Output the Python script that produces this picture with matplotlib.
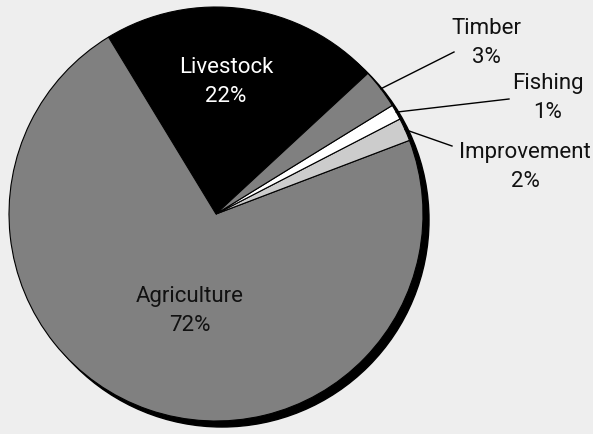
import matplotlib
matplotlib.use('Agg')
import numpy as np
import matplotlib.pyplot as plt
from matplotlib.patches import Circle

plt.rcParams['font.family'] = ['Roboto', 'DejaVu Sans']

# данные
labels = ['Livestock', 'Agriculture', 'Improvement', 'Fishing', 'Timber']
values = [21.8, 72.1, 1.8, 1.2, 3.1]
colors = ['#000000', '#808080', '#cccccc', '#ffffff', '#808080']

W, H = 593, 434
cx, cy, r = 216, H - 214, 207

fig = plt.figure(figsize=(W / 100, H / 100), dpi=100)
fig.patch.set_facecolor('#eeeeee')
ax = fig.add_axes([0, 0, 1, 1])

# тень
ax.add_patch(Circle((cx + 6, cy - 6), r, color='black', zorder=0))

wedges, _ = ax.pie(values, colors=colors, startangle=42.8, counterclock=True,
                   center=(cx, cy), radius=r, frame=True,
                   wedgeprops=dict(edgecolor='black', linewidth=0.8))
ax.set_xlim(0, W)
ax.set_ylim(0, H)
ax.set_aspect('equal')
ax.axis('off')

fs = 16
ls = 1.5
# подписи внутри
inner = {'Livestock': (226, 82, 'white'), 'Agriculture': (190, 311, '#111111')}
for i, lab in enumerate(labels):
    pct = f'{round(values[i]):d}%'
    if lab in inner:
        x, y, c = inner[lab]
        ax.text(x, H - y, f'{lab}\n{pct}', ha='center', va='center', color=c,
                fontsize=fs, linespacing=ls)

# выноски
outer = {'Timber': ((454, 52), (486, 43)),
         'Fishing': ((509, 99), (548, 98)),
         'Improvement': ((452, 146), (525, 167))}
for i, lab in enumerate(labels):
    if lab not in outer:
        continue
    w = wedges[i]
    mid = np.deg2rad((w.theta1 + w.theta2) / 2)
    px, py = cx + r * np.cos(mid), cy + r * np.sin(mid)
    (ex, ey), (tx, ty) = outer[lab]
    ax.plot([px, ex], [py, H - ey], color='black', linewidth=1)
    ax.text(tx, H - ty, f'{lab}\n{round(values[i]):d}%', ha='center', va='center',
            color='#111111', fontsize=fs, linespacing=ls)

fig.savefig('out.png', dpi=100, facecolor=fig.get_facecolor())
